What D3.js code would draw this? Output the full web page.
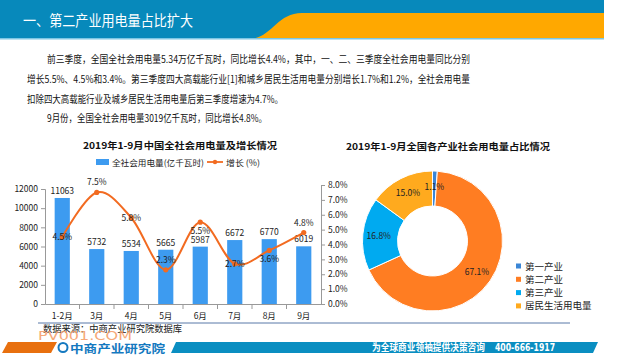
<!DOCTYPE html>
<html><head><meta charset="utf-8">
<script src="https://cdn.jsdelivr.net/npm/d3@7"></script>
<style>
html,body{margin:0;padding:0;background:#fff;}
svg{display:block;font-family:"Noto Sans CJK SC","Noto Sans",sans-serif;}
</style></head>
<body>
<svg id="c" width="640" height="360"></svg>
<script>
// ---- data ----
const months = ["1-2月","3月","4月","5月","6月","7月","8月","9月"];
const consumption = [11063,5732,5534,5665,5987,6672,6770,6019];
const growth = [4.5,7.5,5.8,2.3,5.5,2.7,3.6,4.8];
const growthLabelPos = ["c","t","c","t","b","c","b","t"];
const leftTicks = [0,2000,4000,6000,8000,10000,12000];
const rightTicks = [0,1,2,3,4,5,6,7,8];
const sectors = ["第一产业","第二产业","第三产业","居民生活用电量"];
const shares = [1.1,67.1,16.8,15.0];
const paragraph = [
 "前三季度，全国全社会用电量5.34万亿千瓦时，同比增长4.4%，其中，一、二、三季度全社会用电量同比分别",
 "增长5.5%、4.5%和3.4%。第三季度四大高载能行业[1]和城乡居民生活用电量分别增长1.7%和1.2%，全社会用电量",
 "扣除四大高载能行业及城乡居民生活用电量后第三季度增速为4.7%。",
 "9月份，全国全社会用电量3019亿千瓦时，同比增长4.8%。"
];

const svg = d3.select("#c");

// ---- header ----
svg.append("rect").attr("x",0).attr("y",0).attr("width",604).attr("height",39).attr("fill","#0789bb");
svg.append("path").attr("d","M248,39 C272,39 276,13 302,13 L604,13 L604,39 Z").attr("fill","#ffa800");
svg.append("rect").attr("x",0).attr("y",38).attr("width",604).attr("height",1.5).attr("fill","#7cc6e4");
svg.append("text").attr("x",23).attr("y",26).attr("fill","#fff").attr("font-size",14.5)
  .attr("textLength",170).attr("lengthAdjust","spacingAndGlyphs").text("一、第二产业用电量占比扩大");

// ---- paragraph ----
const pLines = [{x:47,w:423,y:63},{x:27,w:443,y:83},{x:27,w:256,y:103},{x:47,w:220,y:122}];
paragraph.forEach((t,i)=>{
  svg.append("text").attr("x",pLines[i].x).attr("y",pLines[i].y).attr("font-size",10).attr("fill","#111")
    .attr("textLength",pLines[i].w).attr("lengthAdjust","spacingAndGlyphs").text(t);
});

// ---- left chart ----
const x = d3.scaleBand().domain(months).range([45,321]).paddingInner(0.56).paddingOuter(0.28);
const xb = d3.scaleBand().domain(months).range([45,321]);
const yL = d3.scaleLinear().domain([0,12000]).range([304,189]);
const yR = d3.scaleLinear().domain([0,8]).range([304,185]);

svg.append("text").attr("x",180).attr("y",149).attr("text-anchor","middle").attr("font-size",9.5)
  .attr("font-weight","bold").attr("fill","#111").attr("textLength",194).attr("lengthAdjust","spacingAndGlyphs")
  .text("2019年1-9月中国全社会用电量及增长情况");

// legend
svg.append("rect").attr("x",96).attr("y",159).attr("width",13).attr("height",6).attr("fill","#3d9bf0");
svg.append("text").attr("x",112).attr("y",165.5).attr("font-size",8.5).attr("fill","#222")
  .attr("textLength",92).attr("lengthAdjust","spacingAndGlyphs").text("全社会用电量(亿千瓦时)");
svg.append("line").attr("x1",207).attr("x2",223).attr("y1",162).attr("y2",162).attr("stroke","#f26b21").attr("stroke-width",1.8);
svg.append("circle").attr("cx",215).attr("cy",162).attr("r",2.2).attr("fill","#f26b21");
svg.append("text").attr("x",226).attr("y",165.5).attr("font-size",8.5).attr("fill","#222")
  .attr("textLength",34).attr("lengthAdjust","spacingAndGlyphs").text("增长 (%)");

// axes
const gL = svg.append("g").attr("transform","translate(45,0)")
  .call(d3.axisLeft(yL).tickValues(leftTicks).tickSize(4).tickFormat(d3.format("d")));
const gR = svg.append("g").attr("transform","translate(321,0)")
  .call(d3.axisRight(yR).tickValues(rightTicks).tickSize(4).tickFormat(d=>d3.format(".1f")(d)+"%"));
const gX = svg.append("g").attr("transform","translate(0,304)")
  .call(d3.axisBottom(xb).tickSize(0).tickPadding(9));
[gL,gR,gX].forEach(g=>{
  g.select(".domain").attr("stroke","#999");
  g.selectAll(".tick line").attr("stroke","#999");
  g.selectAll("text").attr("fill","#222").attr("font-size",8.5).style("font-family","'Noto Sans CJK SC',sans-serif");
});
// category boundary ticks
svg.append("g").selectAll("line").data(months.slice(1)).join("line")
  .attr("x1",d=>xb(d)).attr("x2",d=>xb(d)).attr("y1",304).attr("y2",309).attr("stroke","#999");

// bars
svg.append("g").selectAll("rect").data(consumption).join("rect")
  .attr("x",(d,i)=>x(months[i])).attr("width",x.bandwidth())
  .attr("y",d=>yL(d)).attr("height",d=>304-yL(d)).attr("fill","#3d9bf0");
svg.append("g").selectAll("text").data(consumption).join("text")
  .attr("x",(d,i)=>xb(months[i])+xb.bandwidth()/2).attr("y",d=>yL(d)-4)
  .attr("text-anchor","middle").attr("font-size",8.5).attr("fill","#222").text(d=>d);

// line
const cx = i=>xb(months[i])+xb.bandwidth()/2;
const line = d3.line().x((d,i)=>cx(i)).y(d=>yR(d)).curve(d3.curveCardinal.tension(0));
svg.append("path").datum(growth).attr("d",line).attr("fill","none").attr("stroke","#f26b21").attr("stroke-width",2);
svg.append("g").selectAll("circle").data(growth).join("circle")
  .attr("cx",(d,i)=>cx(i)).attr("cy",d=>yR(d)).attr("r",2.6).attr("fill","#f26b21");
svg.append("g").selectAll("text").data(growth).join("text")
  .attr("x",(d,i)=>cx(i))
  .attr("y",(d,i)=>{const p=growthLabelPos[i];return yR(d)+(p==="t"?-7:p==="b"?12:3);})
  .attr("text-anchor","middle").attr("font-size",8.5).attr("fill","#222").text(d=>d.toFixed(1)+"%");

// ---- donut ----
svg.append("text").attr("x",448).attr("y",150).attr("text-anchor","middle").attr("font-size",9.5)
  .attr("font-weight","bold").attr("fill","#111").attr("textLength",204).attr("lengthAdjust","spacingAndGlyphs")
  .text("2019年1-9月全国各产业社会用电量占比情况");
const pieColors = ["#3b86d6","#ff7d22","#00aaf0","#ffaa1e"];
const pie = d3.pie().sort(null).value(d=>d)(shares);
const arc = d3.arc().innerRadius(35).outerRadius(70);
const lab = d3.arc().innerRadius(54).outerRadius(54);
const gP = svg.append("g").attr("transform","translate(432.5,241)");
gP.selectAll("path").data(pie).join("path").attr("d",arc).attr("fill",(d,i)=>pieColors[i])
  .attr("stroke","#fff").attr("stroke-width",1);
gP.selectAll("text").data(pie).join("text")
  .attr("transform",d=>`translate(${lab.centroid(d)})`).attr("dy",3)
  .attr("text-anchor","middle").attr("font-size",8.5).attr("fill","#222").text(d=>d.data.toFixed(1)+"%");
const gLg = svg.append("g");
sectors.forEach((s,i)=>{
  const yy = 266+i*13.3;
  gLg.append("rect").attr("x",516).attr("y",yy-2.5).attr("width",5).attr("height",5).attr("fill",pieColors[i]);
  gLg.append("text").attr("x",525).attr("y",yy+3.5).attr("font-size",9.5).attr("fill","#222").text(s);
});

// ---- source & footer ----
svg.append("line").attr("x1",38).attr("x2",570).attr("y1",323).attr("y2",323).attr("stroke","#5878a8").attr("stroke-width",1);
svg.append("text").attr("x",43).attr("y",331.5).attr("font-size",9.5).attr("fill","#222")
  .attr("textLength",139).attr("lengthAdjust","spacingAndGlyphs").text("数据来源：中商产业研究院数据库");
svg.append("text").attr("x",38).attr("y",340).attr("font-size",12.5).attr("fill","#f59a62").attr("opacity",0.85)
  .attr("textLength",94).attr("lengthAdjust","spacingAndGlyphs").style("font-family","'DejaVu Sans',sans-serif").text("PV001.COM");
svg.append("path").attr("d","M8,342 L57,342 L51,353 L2,353 Z").attr("fill","#e8700f");
svg.append("path").attr("d","M176,342 L598,342 L593,353 L171,353 Z").attr("fill","#0a8ec1");
svg.append("circle").attr("cx",63).attr("cy",347.5).attr("r",4.5).attr("fill","none").attr("stroke","#1479c0").attr("stroke-width",2);
svg.append("text").attr("x",70).attr("y",352.5).attr("font-size",11.5).attr("font-weight","bold").attr("fill","#1479c0")
  .attr("textLength",95).attr("lengthAdjust","spacingAndGlyphs").text("中商产业研究院");
svg.append("text").attr("x",372).attr("y",351).attr("font-size",10).attr("font-weight","bold").attr("fill","#fff")
  .attr("textLength",113).attr("lengthAdjust","spacingAndGlyphs").text("为全球商业领袖提供决策咨询");
svg.append("text").attr("x",495).attr("y",351).attr("font-size",10).attr("font-weight","bold").attr("fill","#fff")
  .attr("textLength",60).attr("lengthAdjust","spacingAndGlyphs").style("font-family","'DejaVu Sans',sans-serif").text("400-666-1917");
</script>
</body></html>
